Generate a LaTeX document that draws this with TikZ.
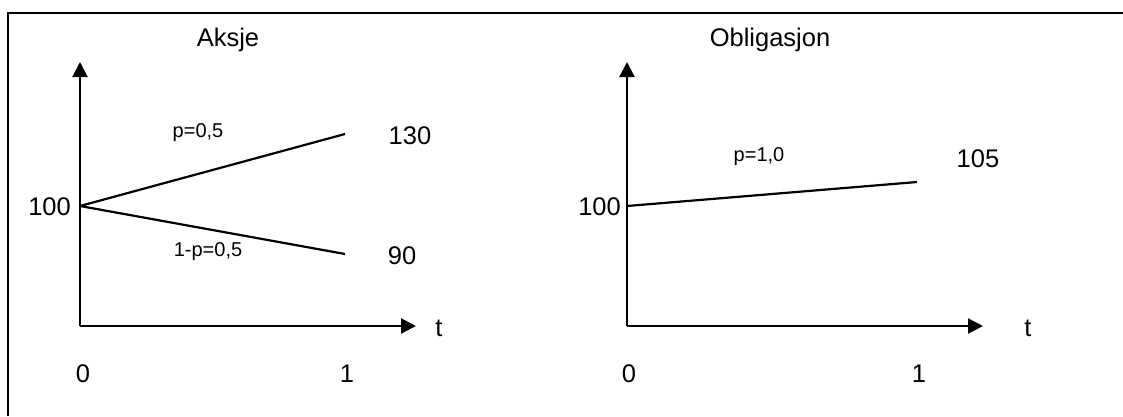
\documentclass[tikz,border=0pt]{standalone}
\usepackage{fontspec}
\setmainfont{Liberation Sans}
\usetikzlibrary{arrows.meta}
\begin{document}
\begin{tikzpicture}[x=1pt,y=-1pt,
  axis/.style={line width=2.2pt,-{Triangle[length=15pt,width=15pt]}},
  branch/.style={line width=2.2pt},
  big/.style={inner sep=0pt,font=\fontsize{25.5}{30}\selectfont},
  small/.style={inner sep=0pt,font=\fontsize{20}{24}\selectfont}]
\useasboundingbox (0,0) rectangle (1123,416);
\draw[line width=2.2pt] (8,416) -- (8,13) -- (1123,13);
% left panel
\coordinate (LO) at (80,326);
\coordinate (LY) at (80,62);
\coordinate (LX) at (416,326);
\coordinate (LS) at (80,206);
\coordinate (LU) at (345,134);
\coordinate (LD) at (345,254);
\draw[axis] (LO) -- (LY);
\draw[axis] (LO) -- (LX);
\draw[branch] (LS) -- (LU);
\draw[branch] (LS) -- (LD);
\node[big] (aksje) at (228,40) {Aksje};
\node[small] (pu) at (198,133) {p=0,5};
\node[small] (pd) at (208,252) {1-p=0,5};
\node[big] (v130) at (410,136) {130};
\node[big] (v90) at (402,256) {90};
\node[big,anchor=east] (l100) at (71,207) {100};
\node[big] (lt) at (439,328) {t};
\node[big] (l0) at (83,374) {0};
\node[big] (l1) at (347,374) {1};
% right panel
\coordinate (RO) at (627,326);
\coordinate (RY) at (627,62);
\coordinate (RX) at (983,326);
\coordinate (RS) at (627,206);
\coordinate (RE) at (917,182);
\draw[axis] (RO) -- (RY);
\draw[axis] (RO) -- (RX);
\draw[branch] (RS) -- (RE);
\node[big] (oblig) at (770,40) {Obligasjon};
\node[small] (pr) at (759,157) {p=1,0};
\node[big] (v105) at (978,159) {105};
\node[big,anchor=east] (r100) at (621,207) {100};
\node[big] (rt) at (1028,328) {t};
\node[big] (r0) at (629,374) {0};
\node[big] (r1) at (919,374) {1};
\end{tikzpicture}
\end{document}
